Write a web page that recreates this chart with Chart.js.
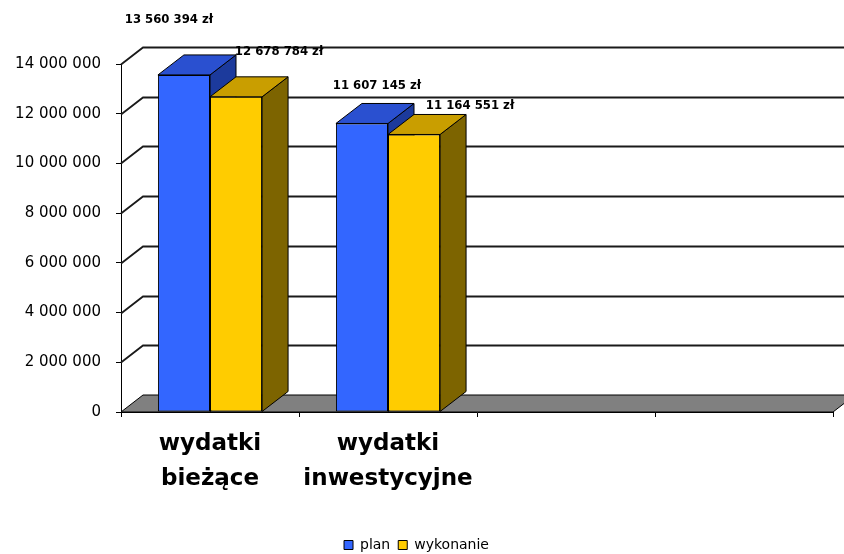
<!DOCTYPE html>
<html>
<head>
<meta charset="utf-8">
<script src="https://cdn.jsdelivr.net/npm/chart.js@4.4.1/dist/chart.umd.min.js"></script>
<style>
  html, body { margin: 0; padding: 0; background: #fff; }
  #wrap { width: 844px; height: 554px; }
</style>
</head>
<body>
<div id="wrap"><canvas id="chart"></canvas></div>
<script>
// values
const categories = [['wydatki', 'bieżące'], ['wydatki', 'inwestycyjne'], '', ''];
const seriesNames = ['plan', 'wykonanie'];
const planValues = [13560394, 11607145, null, null];
const wykonanieValues = [12678784, 11164551, null, null];
const yMax = 14000000;
const yStep = 2000000;

// 3d look (style only)
const WALL = { dx: 22, dy: -17 };
const BAR = { dx: 26, dy: -20 };
const FACES = [
  { front: '#3366ff', top: '#2a50d0', side: '#1c3a9c' },
  { front: '#ffcc00', top: '#c99e00', side: '#7d6400' },
];
// where Excel dropped each value label, relative to the back of the bar top
const LABEL_NUDGE = [
  [[-41, -35], [17, -25]],
  [[-11, -18], [30, -9]],
];

const spaced = n => Math.round(n).toString().replace(/\B(?=(\d{3})+(?!\d))/g, ' ');

function poly(ctx, pts, fill) {
  ctx.beginPath();
  ctx.moveTo(pts[0][0], pts[0][1]);
  for (let i = 1; i < pts.length; i++) ctx.lineTo(pts[i][0], pts[i][1]);
  ctx.closePath();
  ctx.fillStyle = fill;
  ctx.fill();
  ctx.stroke();
}

const box3d = {
  id: 'box3d',
  beforeDatasetsDraw(chart) {
    const { ctx, chartArea: a, scales: { y } } = chart;
    ctx.save();
    ctx.strokeStyle = '#000';
    ctx.lineWidth = 1;

    // floor
    poly(ctx, [
      [a.left, a.bottom], [a.right, a.bottom],
      [a.right + WALL.dx, a.bottom + WALL.dy], [a.left + WALL.dx, a.bottom + WALL.dy],
    ], '#808080');

    // gridlines on side wall + back wall
    ctx.strokeStyle = '#1a1a1a';
    ctx.lineWidth = 1.8;
    y.ticks.forEach(t => {
      if (t.value === 0) return;
      const py = Math.round(y.getPixelForValue(t.value)) + 0.5;
      ctx.beginPath();
      ctx.moveTo(a.left, py);
      ctx.lineTo(a.left + WALL.dx, py + WALL.dy);
      ctx.lineTo(chart.width, py + WALL.dy);
      ctx.stroke();
    });

    // tops and sides of the columns, blue before yellow in every group
    ctx.strokeStyle = '#000';
    ctx.lineWidth = 1;
    for (let i = 0; i < categories.length; i++) {
      chart.data.datasets.forEach((ds, di) => {
        if (ds.data[i] == null) return;
        const bar = chart.getDatasetMeta(di).data[i];
        const l = bar.x - bar.width / 2, r = bar.x + bar.width / 2;
        const t = bar.y, b = bar.base;
        poly(ctx, [[r, t], [r + BAR.dx, t + BAR.dy], [r + BAR.dx, b + BAR.dy], [r, b]], FACES[di].side);
        poly(ctx, [[l, t], [r, t], [r + BAR.dx, t + BAR.dy], [l + BAR.dx, t + BAR.dy]], FACES[di].top);
      });
    }
    ctx.restore();
  },
  afterDatasetsDraw(chart) {
    const { ctx } = chart;
    ctx.save();
    ctx.fillStyle = '#000';
    ctx.font = 'bold 13px "DejaVu Sans Condensed", "DejaVu Sans"';
    ctx.textAlign = 'center';
    ctx.textBaseline = 'middle';
    for (let i = 0; i < categories.length; i++) {
      chart.data.datasets.forEach((ds, di) => {
        const v = ds.data[i];
        if (v == null) return;
        const bar = chart.getDatasetMeta(di).data[i];
        const n = LABEL_NUDGE[i][di];
        ctx.fillText(spaced(v) + ' zł', bar.x + BAR.dx + n[0], bar.y + BAR.dy + n[1]);
      });
    }
    ctx.restore();
  },
};

new Chart(document.getElementById('chart'), {
  type: 'bar',
  data: {
    labels: categories,
    datasets: [
      { label: seriesNames[0], data: planValues, backgroundColor: FACES[0].front },
      { label: seriesNames[1], data: wykonanieValues, backgroundColor: FACES[1].front },
    ],
  },
  options: {
    responsive: true,
    maintainAspectRatio: false,
    animation: false,
    layout: { padding: { top: 64, right: 11, left: 0, bottom: -8 } },
    datasets: {
      bar: {
        borderColor: '#000',
        borderWidth: 1,
        borderSkipped: false,
        categoryPercentage: 0.585,
        barPercentage: 1.0,
      },
    },
    plugins: {
      tooltip: { enabled: false },
      legend: {
        position: 'bottom',
        labels: {
          boxWidth: 9,
          boxHeight: 9,
          padding: 8,
          color: '#000',
          font: { family: 'DejaVu Sans', size: 14 },
        },
      },
    },
    scales: {
      x: {
        grid: { drawOnChartArea: false, color: '#000', tickLength: 5, offset: true },
        border: { color: '#000', width: 1 },
        ticks: {
          color: '#000',
          maxRotation: 0,
          autoSkip: false,
          padding: 10,
          font: { family: 'DejaVu Sans', weight: 'bold', size: 23, lineHeight: 1.52 },
        },
        afterFit: s => { s.height = 118; },
      },
      y: {
        min: 0,
        max: yMax,
        grid: { drawOnChartArea: false, color: '#000', tickLength: 5 },
        border: { color: '#000', width: 1 },
        ticks: {
          stepSize: yStep,
          color: '#000',
          padding: 15,
          font: { family: 'DejaVu Sans', size: 15 },
          callback: v => spaced(v),
        },
        afterFit: s => { s.width = 121; },
      },
    },
  },
  plugins: [box3d],
});
</script>
</body>
</html>
